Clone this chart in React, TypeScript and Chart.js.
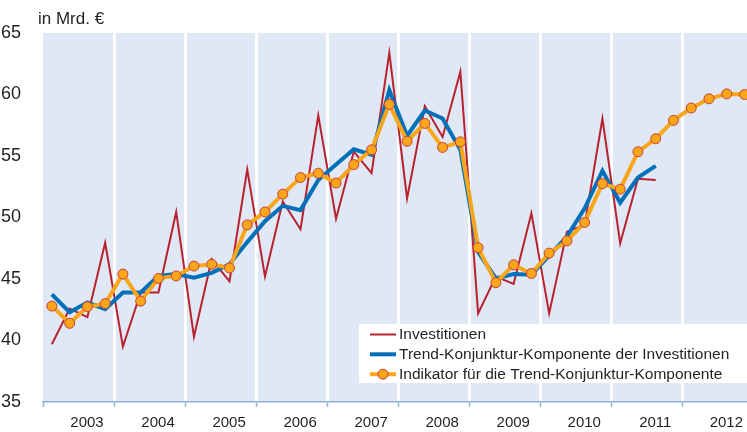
import React, { useEffect, useRef } from "react";
import { Chart, registerables } from "chart.js";

Chart.register(...registerables);

const YEARS = ["2003", "2004", "2005", "2006", "2007", "2008", "2009", "2010", "2011", "2012"];

const INVESTITIONEN = [
  39.7, 42.6, 41.9, 47.95, 39.5, 43.9, 43.9, 50.45, 40.3, 46.6, 44.8, 53.9,
  45.2, 51.3, 49.05, 58.3, 49.9, 55.35, 53.6, 63.4, 51.55, 59.05, 56.55, 61.85,
  42.2, 45.2, 44.6, 50.35, 42.2, 48.85, 49.4, 58.05, 47.9, 53.15, 53.05,
];

const TREND = [
  43.75, 42.3, 43.1, 42.55, 43.9, 43.9, 45.25, 45.4, 45.1, 45.5, 46.2, 48.0,
  49.7, 50.95, 50.6, 53.05, 54.3, 55.55, 55.1, 60.35, 56.65, 58.7, 58.05, 55.5,
  47.2, 45.05, 45.4, 45.35, 46.9, 48.45, 50.75, 53.8, 51.2, 53.25, 54.2,
];

const INDIKATOR = [
  42.8, 41.4, 42.75, 43.0, 45.4, 43.2, 45.05, 45.25, 46.05, 46.2, 45.9, 49.4,
  50.45, 51.9, 53.25, 53.6, 52.8, 54.3, 55.5, 59.2, 56.2, 57.65, 55.7, 56.15,
  47.55, 44.7, 46.15, 45.45, 47.1, 48.1, 49.6, 52.75, 52.3, 55.35, 56.4, 57.9,
  58.9, 59.65, 60.05, 60.0,
];

const LEGEND_LABELS = [
  "Investitionen",
  "Trend-Konjunktur-Komponente der Investitionen",
  "Indikator für die Trend-Konjunktur-Komponente",
];
const UNIT_LABEL = "in Mrd. €";

const FONT = "'Liberation Sans', Arial, Helvetica, sans-serif";
const TEXT = "#231f20";
const RED = "#b8222f";
const BLUE = "#0071b9";
const ORANGE = "#f9a61b";
const MARKER_BORDER = "#c8403a";
const BG = "#e1e8f5";
const AXIS = "#8fb1dd";

const toPoints = (arr: number[]) => arr.map((v, i) => ({ x: i + 0.5, y: v }));

const decorPlugin = {
  id: "decor",
  beforeDraw(chart: any) {
    const { ctx, chartArea } = chart;
    ctx.save();
    ctx.fillStyle = BG;
    ctx.fillRect(chartArea.left, chartArea.top, chartArea.right - chartArea.left, chartArea.bottom - chartArea.top);
    ctx.restore();
  },
  afterDraw(chart: any) {
    const { ctx } = chart;
    ctx.save();
    ctx.fillStyle = TEXT;
    ctx.font = `17px ${FONT}`;
    ctx.textBaseline = "alphabetic";
    ctx.textAlign = "left";
    ctx.fillText(UNIT_LABEL, 38, 24);

    ctx.fillStyle = "#ffffff";
    ctx.fillRect(359, 324, 747 - 359, 59);
    const rows = [334.5, 354.3, 374.2];
    const styles = [
      { color: RED, width: 2, marker: false },
      { color: BLUE, width: 4, marker: false },
      { color: ORANGE, width: 4, marker: true },
    ];
    ctx.font = `15.5px ${FONT}`;
    ctx.textBaseline = "middle";
    rows.forEach((y, i) => {
      const s = styles[i];
      ctx.strokeStyle = s.color;
      ctx.lineWidth = s.width;
      ctx.beginPath();
      ctx.moveTo(370, y);
      ctx.lineTo(396, y);
      ctx.stroke();
      if (s.marker) {
        ctx.beginPath();
        ctx.arc(383, y, 5, 0, Math.PI * 2);
        ctx.fillStyle = ORANGE;
        ctx.fill();
        ctx.lineWidth = 1;
        ctx.strokeStyle = MARKER_BORDER;
        ctx.stroke();
      }
      ctx.fillStyle = TEXT;
      ctx.fillText(LEGEND_LABELS[i], 399, y + 0.5);
    });
    ctx.restore();
  },
};

export default function App() {
  const ref = useRef<HTMLCanvasElement | null>(null);

  useEffect(() => {
    if (!ref.current) return;
    const chart = new Chart(ref.current, {
      type: "line",
      data: {
        datasets: [
          {
            label: LEGEND_LABELS[0],
            data: toPoints(INVESTITIONEN),
            borderColor: RED,
            borderWidth: 2,
            pointRadius: 0,
            tension: 0,
            order: 3,
          },
          {
            label: LEGEND_LABELS[1],
            data: toPoints(TREND),
            borderColor: BLUE,
            borderWidth: 4,
            pointRadius: 0,
            tension: 0,
            order: 2,
          },
          {
            label: LEGEND_LABELS[2],
            data: toPoints(INDIKATOR),
            borderColor: ORANGE,
            borderWidth: 4,
            pointRadius: 5,
            pointBackgroundColor: ORANGE,
            pointBorderColor: MARKER_BORDER,
            pointBorderWidth: 1,
            tension: 0,
            order: 1,
          },
        ],
      },
      options: {
        animation: false,
        responsive: true,
        maintainAspectRatio: false,
        layout: { autoPadding: false, padding: { top: 33, left: 0, right: 0, bottom: 0 } },
        plugins: { legend: { display: false }, tooltip: { enabled: false } },
        scales: {
          x: {
            type: "linear",
            min: 0,
            max: 39.64,
            afterFit: (s: any) => {
              s.height = 30;
              s.paddingLeft = 0;
              s.paddingRight = 0;
            },
            ticks: {
              stepSize: 4,
              includeBounds: false,
              autoSkip: false,
              maxRotation: 0,
              labelOffset: 44,
              padding: 7,
              color: TEXT,
              font: { family: FONT, size: 15 },
              callback: (v: any) => YEARS[Math.round(Number(v) / 4)] ?? "",
            },
            grid: {
              color: (c: any) => (c.tick && c.tick.value === 0 ? "rgba(0,0,0,0)" : "#ffffff"),
              lineWidth: 3,
              tickColor: AXIS,
              tickLength: 5,
              tickWidth: 1.5,
            },
            border: { display: true, color: AXIS, width: 1.5 },
          },
          y: {
            min: 35,
            max: 65,
            afterFit: (s: any) => {
              s.width = 43;
            },
            ticks: {
              stepSize: 5,
              padding: 14,
              color: TEXT,
              font: { family: FONT, size: 18 },
            },
            grid: { display: false },
            border: { display: false },
          },
        },
      },
      plugins: [decorPlugin],
    });
    return () => chart.destroy();
  }, []);

  return (
    <div style={{ position: "fixed", left: 0, top: 0, width: 747, height: 432, background: "#fff" }}>
      <canvas ref={ref} />
    </div>
  );
}
